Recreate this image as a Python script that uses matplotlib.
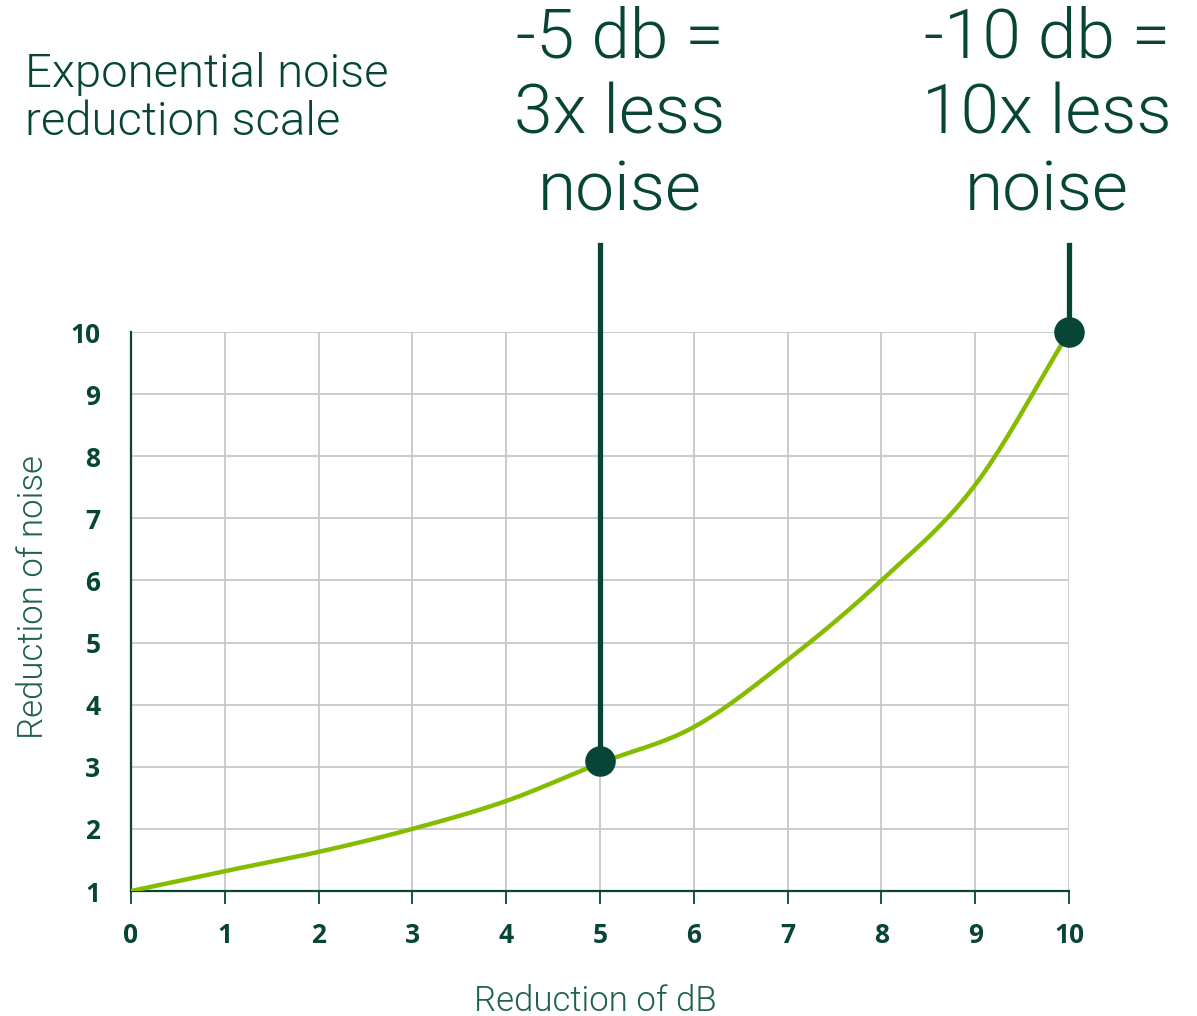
import numpy as np
import matplotlib
matplotlib.use("Agg")
import matplotlib.pyplot as plt

# values
db_reduction = [0, 1, 2, 3, 4, 5, 6, 7, 8, 9, 10]
noise_reduction = [1.0, 1.32, 1.63, 2.0, 2.45, 3.06, 3.64, 4.72, 6.0, 7.54, 10.0]

# highlighted points and their captions
mark_x = [5, 10]
mark_y = [3.1, 10.0]
mark_text = ["-5 db =\n3x less\nnoise", "-10 db =\n10x less\nnoise"]

x_ticks = list(range(0, 11))
y_ticks = list(range(1, 11))

dark = "#074536"
lime = "#86bc00"
label_col = "#1f6150"


def catmull(px, py, n=20):
    # smooth curve through the read points
    px = np.asarray(px, float)
    py = np.asarray(py, float)
    P = np.column_stack([px, py])
    P = np.vstack([2 * P[0] - P[1], P, 2 * P[-1] - P[-2]])
    out = []
    t = np.linspace(0, 1, n, endpoint=False)[:, None]
    for i in range(1, len(P) - 2):
        p0, p1, p2, p3 = P[i - 1], P[i], P[i + 1], P[i + 2]
        seg = 0.5 * ((2 * p1) + (-p0 + p2) * t + (2 * p0 - 5 * p1 + 4 * p2 - p3) * t ** 2
                     + (-p0 + 3 * p1 - 3 * p2 + p3) * t ** 3)
        out.append(seg)
    out.append(P[-2][None, :])
    out = np.vstack(out)
    return out[:, 0], out[:, 1]


fig = plt.figure(figsize=(11.97, 10.16), dpi=100)
ax = fig.add_axes([0.1094, 0.1230, 0.7837, 0.5502])

xs, ys = catmull(db_reduction, noise_reduction)
ax.plot(xs, ys, color=lime, lw=3.2, zorder=3, solid_capstyle="butt")

ax.set_xlim(0, 10)
ax.set_ylim(1, 10)
ax.set_xticks(x_ticks)
ax.set_yticks(y_ticks)
ax.grid(True, color="#c8c8c8", lw=1.3)
ax.set_axisbelow(True)

for s in ["top", "right"]:
    ax.spines[s].set_visible(False)
for s in ["left", "bottom"]:
    ax.spines[s].set_color(dark)
    ax.spines[s].set_linewidth(1.6)

ax.tick_params(axis="x", length=9, width=1.3, color=dark, pad=13,
               labelsize=19, labelcolor=dark)
ax.tick_params(axis="y", length=0, pad=22, labelsize=19, labelcolor=dark)
for lab in ax.get_xticklabels() + ax.get_yticklabels():
    lab.set_fontweight("bold")
    lab.set_fontfamily("Open Sans")

# stems + dots
for x, y in zip(mark_x, mark_y):
    ax.plot([x, x], [y, 11.4], color=dark, lw=3.8, clip_on=False, zorder=4)
    ax.plot(x, y, "o", color=dark, ms=21, clip_on=False, zorder=5)

centers = [620, 1047]
for cx, t in zip(centers, mark_text):
    fig.text(cx / 1197, 1 - 115 / 1016, t, ha="center", va="center",
             fontsize=50, color=dark, family="Roboto", fontweight=300,
             linespacing=1.21)

fig.text(25 / 1197, 1 - 98 / 1016, "Exponential noise\nreduction scale",
         ha="left", va="center", fontsize=34, color=dark, family="Roboto",
         fontweight=300, linespacing=1.1)

fig.text(595 / 1197, 1 - 1001 / 1016, "Reduction of dB", ha="center",
         va="center", fontsize=25, color=label_col, family="Roboto",
         fontweight=300)
fig.text(33 / 1197, 1 - 597 / 1016, "Reduction of noise", ha="center",
         va="center", rotation=90, fontsize=25, color=label_col,
         family="Roboto", fontweight=300)

fig.savefig("out.png", dpi=100)
